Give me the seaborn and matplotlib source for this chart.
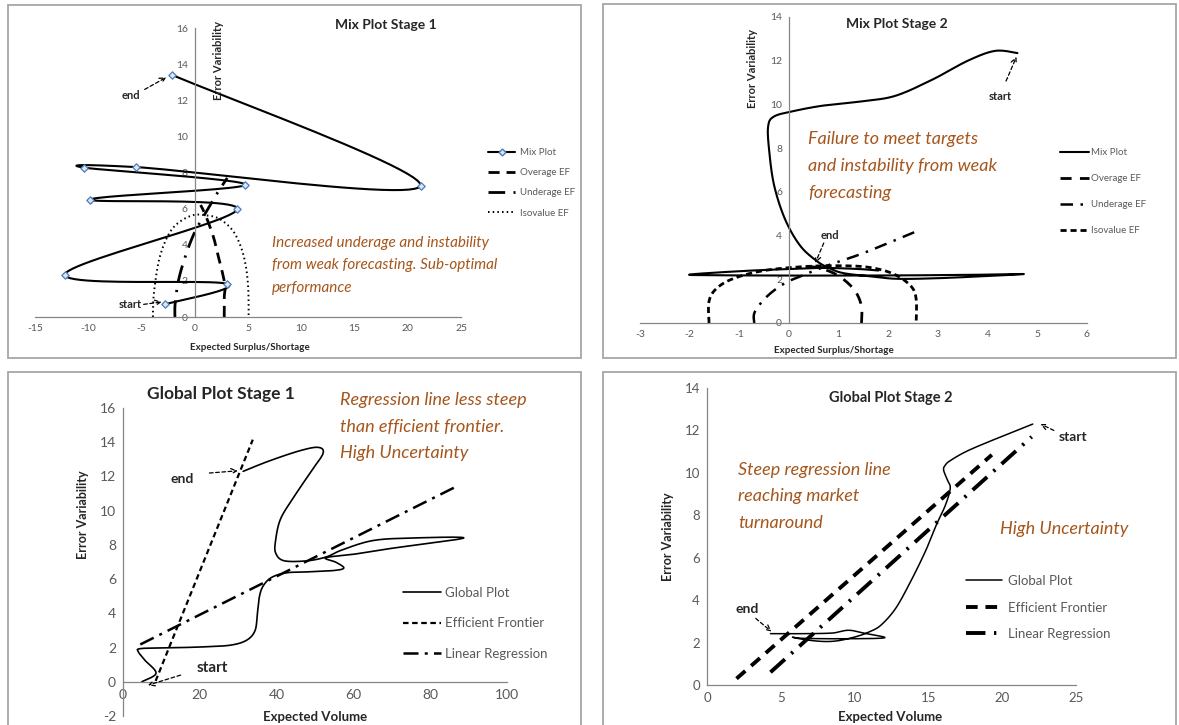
import numpy as np
import matplotlib
matplotlib.use("Agg")
import matplotlib.pyplot as plt
from matplotlib.lines import Line2D
from matplotlib.patches import Rectangle
import seaborn as sns

sns.set_style("white")
plt.rcParams['font.family'] = ['Lato', 'DejaVu Sans']
plt.rcParams['axes.unicode_minus'] = False

# ---------------- data ----------------
# Panel 1: Mix Plot Stage 1
mix1_x = [-2.8, 3.0, -12.2, 4.0, -9.8, 4.76, -10.4, -5.55, 21.2, -2.1]
mix1_y = [0.7, 1.84, 2.35, 5.96, 6.5, 7.33, 8.27, 8.3, 7.26, 13.4]
ov1_x = [2.77, 2.77, 2.85, 2.62, 2.3, 1.82, 1.3, 0.85, 0.55]
ov1_y = [0.0, 1.1, 1.66, 2.4, 3.14, 4.3, 5.2, 5.85, 6.2]
un1_x = [-1.86, -1.84, -1.5, -0.8, 0.0, 1.0, 2.0, 3.05]
un1_y = [0.0, 0.75, 2.1, 3.5, 4.7, 5.75, 6.75, 7.7]
iso1_x = [-3.93, -3.84, -3.36, -2.58, -1.64, -0.22, 1.04, 2.3, 3.55, 4.34, 4.81, 5.03, 5.06]
iso1_y = [0.0, 1.29, 3.14, 4.43, 5.17, 5.63, 5.63, 5.44, 4.8, 3.87, 2.77, 1.48, 0.0]

# Panel 2: Mix Plot Stage 2
mix2_x = [4.6, 4.15, 3.6, 2.9, 2.15, 1.5, 0.7, 0.1, -0.3, -0.42, -0.4, -0.3, -0.08, 0.22,
          0.55, 0.8, 1.1, 1.7, 2.2, 3.0, 3.9, 4.73, 3.9, 2.4, 1.0, 0.0, -1.2, -2.01, -1.0,
          0.0, 0.7, 1.4, 1.8]
mix2_y = [12.35, 12.45, 12.0, 11.15, 10.4, 10.15, 9.95, 9.7, 9.45, 9.0, 7.9, 6.3, 4.75, 3.55,
          2.85, 2.52, 2.28, 2.12, 2.02, 2.05, 2.14, 2.24, 2.21, 2.18, 2.17, 2.17, 2.18, 2.21, 2.37,
          2.47, 2.52, 2.47, 2.4]
ov2_x = [1.46, 1.46, 1.35, 1.15, 0.9, 0.6, 0.35]
ov2_y = [0.0, 0.75, 1.4, 1.9, 2.28, 2.52, 2.6]
un2_x = [-0.7, -0.69, -0.45, -0.1, 0.3, 0.8, 1.5, 2.52]
un2_y = [0.0, 0.5, 1.2, 1.8, 2.2, 2.65, 3.2, 4.15]
iso2_x = [-1.61, -1.61, -1.45, -1.1, -0.5, 0.3, 1.0, 1.6, 2.1, 2.45, 2.56, 2.56]
iso2_y = [0.0, 1.0, 1.6, 2.05, 2.4, 2.58, 2.62, 2.55, 2.25, 1.7, 1.1, 0.0]

# Panel 3: Global Plot Stage 1
gp1_x = [4.9, 8.6, 5.7, 4.0, 4.6, 12, 21, 28, 32.2, 34.4, 35.0, 35.5, 36.5, 38.7, 42.6, 47.8,
         54.8, 57.5, 55.5, 52.8, 60, 70, 88.7, 75, 65, 57, 53, 48, 42, 39.8, 39.7, 41, 44.5, 49,
         52.1, 50.8, 46, 38, 31.3]
gp1_y = [0.0, 0.5, 1.26, 1.75, 1.94, 1.98, 2.04, 2.14, 2.43, 3.0, 4.0, 4.95, 5.6, 6.1, 6.37, 6.42,
         6.5, 6.65, 6.98, 7.25, 7.45, 7.8, 8.4, 8.4, 8.25, 7.7, 7.3, 7.07, 7.07, 7.5, 8.2, 9.5, 10.8,
         12.3, 13.35, 13.7, 13.5, 12.9, 12.3]
ef1_x = [8.5, 33.8]
ef1_y = [0.05, 14.15]
lr1_x = [4.5, 86.7]
lr1_y = [2.18, 11.4]

# Panel 4: Global Plot Stage 2
gp2_x = [22.07, 20.27, 17.78, 16.53, 16.16, 16.03, 16.28, 16.48, 16.16, 15.54, 14.79, 13.79,
         12.79, 11.8, 11.05, 10.2, 9.0, 8.0, 6.8, 5.8, 6.5, 9.0, 12.0, 10.8, 9.6, 8.5, 6.5, 4.3]
gp2_y = [12.3, 11.8, 11.08, 10.6, 10.38, 10.14, 9.67, 9.28, 8.49, 7.55, 6.29, 4.87, 3.62, 2.83,
         2.52, 2.3, 2.1, 2.05, 2.12, 2.25, 2.2, 2.18, 2.22, 2.42, 2.58, 2.45, 2.42, 2.42]
ef2_x = [2.0, 19.3]
ef2_y = [0.3, 10.85]
lr2_x = [4.3, 22.0]
lr2_y = [0.6, 11.7]

titles = ["Mix Plot Stage 1", "Mix Plot Stage 2", "Global Plot Stage 1", "Global Plot Stage 2"]
legend1 = ["Mix Plot", "Overage EF", "Underage EF", "Isovalue EF"]
legend3 = ["Global Plot", "Efficient Frontier", "Linear Regression"]
note1 = ["Increased underage and instability", "from weak forecasting. Sub-optimal", "performance"]
note2 = ["Failure to meet targets", "and instability from weak", "forecasting"]
note3 = ["Regression line less steep", "than efficient frontier.", "High Uncertainty"]
note4 = ["Steep regression line", "reaching market", "turnaround"]
note4b = "High Uncertainty"

BROWN = '#A5561C'
GRAY_TXT = '#595959'
SPINE = '#868686'

# ---------------- helpers ----------------
W, H = 1179, 725
fig = plt.figure(figsize=(W / 100, H / 100), dpi=100)


def smooth(xs, ys, n=24):
    p = np.column_stack([xs, ys]).astype(float)
    P = np.vstack([p[0], p, p[-1]])
    t = np.linspace(0, 1, n, endpoint=False)[:, None]
    out = []
    for i in range(1, len(P) - 2):
        p0, p1, p2, p3 = P[i - 1], P[i], P[i + 1], P[i + 2]
        c1 = p1 + (p2 - p0) / 6
        c2 = p2 - (p3 - p1) / 6
        out.append((1 - t) ** 3 * p1 + 3 * (1 - t) ** 2 * t * c1 + 3 * (1 - t) * t ** 2 * c2 + t ** 3 * p2)
    out.append(p[-1:])
    s = np.vstack(out)
    return s[:, 0], s[:, 1]


def line(ax, xs, ys, **kw):
    sx, sy = smooth(xs, ys)
    sns.lineplot(x=sx, y=sy, sort=False, estimator=None, ax=ax, color='black', **kw)


def add_ax(x0, x1, y0, y1):
    return fig.add_axes([x0 / W, 1 - y1 / H, (x1 - x0) / W, (y1 - y0) / H])


def ftext(px, py, s, **kw):
    fig.text(px / W, 1 - py / H, s, **kw)


def frame(x0, x1, y0, y1):
    fig.add_artist(Rectangle((x0 / W, 1 - y1 / H), (x1 - x0) / W, (y1 - y0) / H,
                             transform=fig.transFigure, fill=False, ec='#A6A6A6', lw=1.3))


def style_ax(ax, fs):
    for s in ['top', 'right']:
        ax.spines[s].set_visible(False)
    for s in ['left', 'bottom']:
        ax.spines[s].set_color(SPINE)
        ax.spines[s].set_linewidth(0.9)
    ax.tick_params(axis='both', colors=SPINE, labelcolor=GRAY_TXT, labelsize=fs,
                   length=3, width=0.8, direction='out', pad=2)
    ax.set_xlabel('')
    ax.set_ylabel('')
    ax.patch.set_alpha(0)


def arrow(ax, xy, xytext):
    ax.annotate('', xy=xy, xytext=xytext,
                arrowprops=dict(arrowstyle='->', lw=0.9, linestyle=(0, (3, 2)), color='black',
                                shrinkA=0, shrinkB=0, mutation_scale=10))


def legend(ax, handles, labels, px, py, fs, hl, htp, ls):
    ax.legend(handles, labels, loc='upper left', bbox_to_anchor=(px / W, 1 - py / H),
              bbox_transform=fig.transFigure, frameon=False, fontsize=fs, handlelength=hl,
              handletextpad=htp, labelspacing=ls, borderpad=0, borderaxespad=0,
              labelcolor=GRAY_TXT)


# frames
frame(8, 581, 5, 358)
frame(603, 1176, 4, 358)
frame(8, 581, 372, 740)
frame(603, 1176, 372, 740)

# ---------------- Panel 1 ----------------
ax1 = add_ax(35, 461, 28, 317)
ls_ov1 = (0, (4, 2.5))
ls_un1 = (0, (6, 3, 0.8, 3))
ls_iso1 = (0, (0.8, 1.6))
line(ax1, iso1_x, iso1_y, lw=1.4, linestyle=ls_iso1)
line(ax1, ov1_x, ov1_y, lw=2.0, linestyle=ls_ov1)
line(ax1, un1_x, un1_y, lw=2.0, linestyle=ls_un1)
line(ax1, mix1_x, mix1_y, lw=1.5)
sns.scatterplot(x=mix1_x, y=mix1_y, ax=ax1, marker='D', s=14, color='#DCE6F2',
                edgecolor='#4A7EBB', linewidth=0.9, zorder=5)
ax1.set_xlim(-15, 25)
ax1.set_ylim(0, 16)
ax1.set_xticks(np.arange(-15, 26, 5))
ax1.set_yticks(np.arange(0, 17, 2))
style_ax(ax1, 7.5)
ax1.spines['left'].set_position(('data', 0))
h1 = [Line2D([], [], color='k', lw=1.5, marker='D', ms=3.5, mfc='#DCE6F2', mec='#4A7EBB'),
      Line2D([], [], color='k', lw=2.0, linestyle=ls_ov1),
      Line2D([], [], color='k', lw=2.0, linestyle=ls_un1),
      Line2D([], [], color='k', lw=1.4, linestyle=ls_iso1)]
legend(ax1, h1, legend1, 488, 148, 7, 2.8, 0.45, 1.15)
ax1.text(-5.95, 12.26, 'end', fontsize=8, fontweight='bold', ha='center', va='center')
arrow(ax1, (-2.67, 13.27), (-4.7, 12.6))
ax1.text(-6.1, 0.7, 'start', fontsize=8, fontweight='bold', ha='center', va='center')
arrow(ax1, (-3.1, 0.83), (-4.8, 0.7))
ftext(386, 25, titles[0], fontsize=10, fontweight='bold', ha='center', va='center')
ftext(219, 61, 'Error Variability', fontsize=8, fontweight='bold', rotation=90, ha='center', va='center')
ftext(250, 348, 'Expected Surplus/Shortage', fontsize=7, fontweight='bold', ha='center', va='center')
for i, s in enumerate(note1):
    ftext(272, 243 + 22.5 * i, s, fontsize=11, style='italic', color=BROWN, va='center')

# ---------------- Panel 2 ----------------
ax2 = add_ax(640, 1087, 17, 323)
ls_ov2 = (0, (4, 3))
ls_un2 = (0, (5, 3, 1, 3))
ls_iso2 = (0, (2.2, 1.4))
line(ax2, iso2_x, iso2_y, lw=2.0, linestyle=ls_iso2)
line(ax2, ov2_x, ov2_y, lw=2.0, linestyle=ls_ov2)
line(ax2, un2_x, un2_y, lw=1.8, linestyle=ls_un2)
line(ax2, mix2_x, mix2_y, lw=1.5)
ax2.set_xlim(-3, 6)
ax2.set_ylim(0, 14)
ax2.set_xticks(np.arange(-3, 7, 1))
ax2.set_yticks(np.arange(0, 15, 2))
style_ax(ax2, 7.5)
ax2.spines['left'].set_position(('data', 0))
h2 = [Line2D([], [], color='k', lw=1.5),
      Line2D([], [], color='k', lw=2.0, linestyle=ls_ov2),
      Line2D([], [], color='k', lw=1.8, linestyle=ls_un2),
      Line2D([], [], color='k', lw=2.0, linestyle=ls_iso2)]
legend(ax2, h2, legend1, 1060, 148, 7, 3.0, 0.2, 1.75)
ax2.text(4.26, 10.38, 'start', fontsize=8, fontweight='bold', ha='center', va='center')
arrow(ax2, (4.58, 12.18), (4.37, 11.07))
ax2.text(0.82, 4.0, 'end', fontsize=8, fontweight='bold', ha='center', va='center')
arrow(ax2, (0.53, 2.75), (0.7, 3.66))
ftext(897, 24, titles[1], fontsize=10, fontweight='bold', ha='center', va='center')
ftext(752, 68, 'Error Variability', fontsize=8, fontweight='bold', rotation=90, ha='center', va='center')
ftext(834, 350, 'Expected Surplus/Shortage', fontsize=7, fontweight='bold', ha='center', va='center')
for i, s in enumerate(note2):
    ftext(808, 139 + 27 * i, s, fontsize=13, style='italic', color=BROWN, va='center')

# ---------------- Panel 3 ----------------
ax3 = add_ax(123, 507, 408, 716)
ls_ef3 = (0, (2.5, 1.6))
ls_lr3 = (0, (6, 2.5, 1.2, 2.5))
line(ax3, ef1_x, ef1_y, lw=1.6, linestyle=ls_ef3)
line(ax3, lr1_x, lr1_y, lw=1.8, linestyle=ls_lr3)
line(ax3, gp1_x, gp1_y, lw=1.2)
ax3.set_xlim(0, 100)
ax3.set_ylim(-2, 16)
ax3.set_xticks(np.arange(0, 101, 20))
ax3.set_yticks(np.arange(-2, 17, 2))
style_ax(ax3, 10)
ax3.spines['bottom'].set_position(('data', 0))
h3 = [Line2D([], [], color='k', lw=1.2),
      Line2D([], [], color='k', lw=1.6, linestyle=ls_ef3),
      Line2D([], [], color='k', lw=1.8, linestyle=ls_lr3)]
legend(ax3, h3, legend3, 403, 587, 9.5, 2.9, 0.25, 1.4)
ax3.text(15.5, 11.86, 'end', fontsize=10, fontweight='bold', ha='center', va='center')
arrow(ax3, (29.9, 12.33), (22.5, 12.2))
ax3.text(23.3, 0.82, 'start', fontsize=11, fontweight='bold', ha='center', va='center')
arrow(ax3, (6.5, -0.2), (15.0, 0.39))
ftext(221, 394, titles[2], fontsize=12.5, fontweight='bold', ha='center', va='center')
ftext(83, 515, 'Error Variability', fontsize=9, fontweight='bold', rotation=90, ha='center', va='center')
ftext(315, 717, 'Expected Volume', fontsize=9.5, fontweight='bold', ha='center', va='center')
for i, s in enumerate(note3):
    ftext(340, 400 + 26.5 * i, s, fontsize=13, style='italic', color=BROWN, va='center')

# ---------------- Panel 4 ----------------
ax4 = add_ax(707, 1076, 388, 685)
ls_ef4 = (0, (3, 2))
ls_lr4 = (0, (5, 2.2, 0.6, 2.2))
line(ax4, ef2_x, ef2_y, lw=2.8, linestyle=ls_ef4)
line(ax4, lr2_x, lr2_y, lw=2.8, linestyle=ls_lr4)
line(ax4, gp2_x, gp2_y, lw=1.1)
ax4.set_xlim(0, 25)
ax4.set_ylim(0, 14)
ax4.set_xticks(np.arange(0, 26, 5))
ax4.set_yticks(np.arange(0, 15, 2))
style_ax(ax4, 9.5)
h4 = [Line2D([], [], color='k', lw=1.1),
      Line2D([], [], color='k', lw=2.8, linestyle=ls_ef4),
      Line2D([], [], color='k', lw=2.8, linestyle=ls_lr4)]
legend(ax4, h4, legend3, 966, 575, 9.5, 2.7, 0.5, 1.1)
ax4.text(24.8, 11.7, 'start', fontsize=10, fontweight='bold', ha='center', va='center')
arrow(ax4, (22.6, 12.3), (23.5, 12.0))
ax4.text(2.74, 3.57, 'end', fontsize=10, fontweight='bold', ha='center', va='center')
arrow(ax4, (4.36, 2.52), (3.3, 3.14))
ftext(891, 398, titles[3], fontsize=10.5, fontweight='bold', ha='center', va='center')
ftext(668, 537, 'Error Variability', fontsize=9, fontweight='bold', rotation=90, ha='center', va='center')
ftext(890, 717, 'Expected Volume', fontsize=9.5, fontweight='bold', ha='center', va='center')
for i, s in enumerate(note4):
    ftext(738, 470 + 26.5 * i, s, fontsize=13, style='italic', color=BROWN, va='center')
ftext(1000, 529, note4b, fontsize=13, style='italic', color=BROWN, va='center')

fig.savefig('out.png', dpi=100)
